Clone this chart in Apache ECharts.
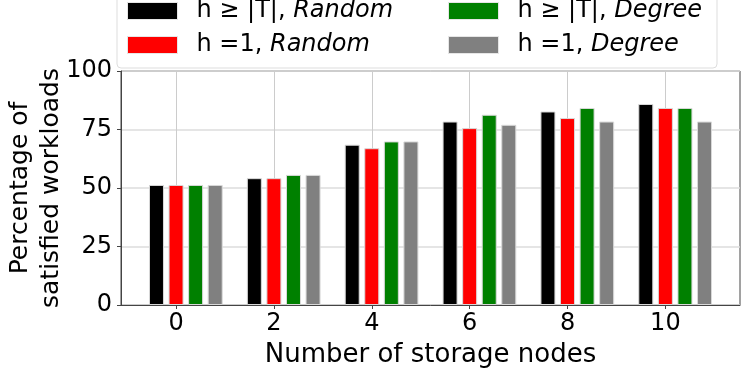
<!DOCTYPE html>
<html>
<head>
<meta charset="utf-8">
<script src="https://cdn.jsdelivr.net/npm/echarts@6/dist/echarts.min.js"></script>
<style>
html, body { margin: 0; padding: 0; background: #fff; }
#chart { width: 747px; height: 374px; }
</style>
</head>
<body>
<div id="chart"></div>
<script>
// storage nodes on the x axis
var nodes = [0, 2, 4, 6, 8, 10];
var xTicks = [0, 2, 4, 6, 8, 10];
var yTicks = [0, 25, 50, 75, 100];

var names = ['h ≥ |T|, Random', 'h =1, Random', 'h ≥ |T|, Degree', 'h =1, Degree'];
var colors = ['#000000', '#ff0000', '#008000', '#808080'];
var offsets = [-0.4, 0, 0.4, 0.8];   // bar shift in x units, like the original

var hRandom = [51.3, 54.2, 68.5, 78.4, 82.7, 85.9];
var oneRandom = [51.3, 54.2, 67.0, 75.6, 79.9, 84.2];
var hDegree = [51.3, 55.6, 69.9, 81.3, 84.2, 84.2];
var oneDegree = [51.3, 55.6, 69.9, 77.0, 78.4, 78.4];
var values = [hRandom, oneRandom, hDegree, oneDegree];

var font = 'DejaVu Sans';

function legendFmt(name) {
    var p = name.split(', ');
    return p[0] + ', {i|' + p[1] + '}';
}

var series = names.map(function (n, k) {
    return {
        name: n,
        type: 'bar',
        barWidth: 15,
        barGap: '-100%',
        itemStyle: { color: colors[k], borderColor: '#d9d9d9', borderWidth: 1 },
        data: nodes.map(function (x, i) { return [x + offsets[k], values[k][i]]; })
    };
});

var legendText = {
    fontFamily: font, fontSize: 24, color: '#000',
    padding: [0, 0, 0, 14],
    rich: { i: { fontFamily: font, fontSize: 24, fontStyle: 'italic', color: '#000' } }
};

function makeLegend(data, left) {
    return {
        data: data, orient: 'vertical', left: left, top: -1,
        itemWidth: 50, itemHeight: 17, itemGap: 10, padding: 0,
        icon: 'rect', formatter: legendFmt, textStyle: legendText,
        itemStyle: { borderColor: '#e6e6e6', borderWidth: 1 }
    };
}

var myChart = echarts.init(document.getElementById('chart'));
var option = {
    animation: false,
    textStyle: { fontFamily: font },
    graphic: [{
        type: 'rect', z: -1,
        shape: { x: 117, y: -10, width: 600, height: 78, r: 4 },
        style: { fill: '#fff', stroke: '#dddddd', lineWidth: 1 }
    }],
    legend: [makeLegend([names[0], names[1]], 127), makeLegend([names[2], names[3]], 448)],
    grid: {
        left: 121, right: 7, top: 71, bottom: 69,
        outerBoundsMode: 'none',
        show: true, borderColor: '#444', borderWidth: 1, backgroundColor: 'transparent'
    },
    xAxis: {
        type: 'value',
        min: -1.125, max: 11.525,
        name: 'Number of storage nodes',
        nameLocation: 'middle', nameGap: 37, nameMoveOverlap: false,
        nameTextStyle: { fontFamily: font, fontSize: 26, color: '#000' },
        axisLine: { show: true, onZero: false, lineStyle: { color: '#444' } },
        axisTick: { show: true, length: 4, customValues: xTicks, lineStyle: { color: '#444' } },
        axisLabel: { customValues: xTicks, fontFamily: font, fontSize: 24, color: '#000', margin: 7 },
        splitLine: { show: true, lineStyle: { color: '#cccccc', width: 1 } }
    },
    yAxis: {
        type: 'value',
        min: 0, max: 100, interval: 25,
        name: 'Percentage of\nsatisfied workloads',
        nameLocation: 'middle', nameGap: 54, nameRotate: 90, nameMoveOverlap: false,
        nameTextStyle: { fontFamily: font, fontSize: 25, color: '#000', lineHeight: 31 },
        axisLine: { show: true, onZero: false, lineStyle: { color: '#444' } },
        axisTick: { show: true, length: 4, lineStyle: { color: '#444' } },
        axisLabel: { fontFamily: font, fontSize: 24, color: '#000', margin: 9 },
        splitLine: { show: true, lineStyle: { color: '#dddddd', width: 1.5 } }
    },
    series: series
};
myChart.setOption(option);
</script>
</body>
</html>
